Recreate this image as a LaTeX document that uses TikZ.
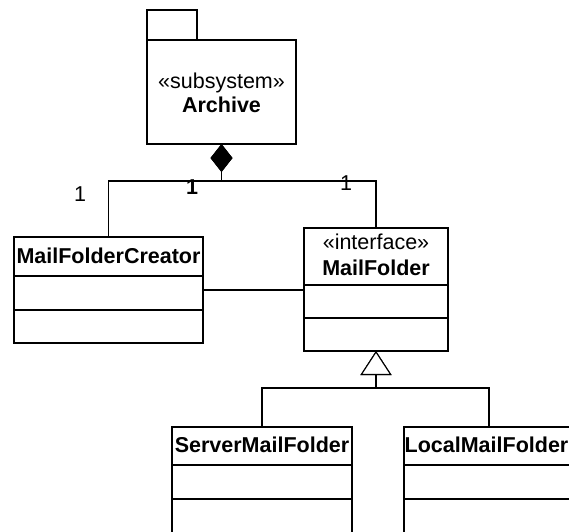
\documentclass[tikz,border=0pt]{standalone}
\usepackage{fontspec}
\setmainfont{Liberation Sans}
\usetikzlibrary{arrows.meta}
\tikzset{
  box/.style={draw, line width=1.6pt, inner sep=0pt, outer sep=0pt, fill=white},
  sep/.style={line width=1.7pt},
  link/.style={line width=1.1pt},
  txt/.style={anchor=base, inner sep=0pt, font=\fontsize{21.5}{25}\selectfont},
  bname/.style={txt, font=\fontsize{21.5}{25}\selectfont\bfseries},
  mult/.style={inner sep=0pt, font=\fontsize{21.5}{25}\selectfont},
  compose/.style={link, {Diamond[length=28pt,width=22pt]}-},
  inherit/.style={link, -{Triangle[open, length=24pt, width=31pt, fill=white]}}
}
\begin{document}
\begin{tikzpicture}[x=1pt,y=-1pt]
\useasboundingbox (0,0) rectangle (569,531);
\clip (0,0) rectangle (569,531);

% subsystem package
\node[box, minimum width=50pt, minimum height=30pt] (tab) at (172,25) {};
\node[box, minimum width=149pt, minimum height=104pt] (archive) at (221.5,92) {};
\node[txt] (archivest) at (221.5,88) {«subsystem»};
\node[bname] (archivename) at (221.5,112) {Archive};

% classes
\node[box, minimum width=189pt, minimum height=106pt] (creator) at (108.5,290) {};
\node[bname] (creatorname) at (108.5,263) {MailFolderCreator};
\draw[sep] (creator.west |- 0,276) -- (creator.east |- 0,276);
\draw[sep] (creator.west |- 0,310) -- (creator.east |- 0,310);

\node[box, minimum width=144pt, minimum height=123pt] (folder) at (376,289.5) {};
\node[txt] (folderst) at (376,249) {«interface»};
\node[bname] (foldername) at (376,275) {MailFolder};
\draw[sep] (folder.west |- 0,285) -- (folder.east |- 0,285);
\draw[sep] (folder.west |- 0,318) -- (folder.east |- 0,318);

\node[box, minimum width=180pt, minimum height=140pt] (server) at (262,497) {};
\node[bname] (servername) at (262,452) {ServerMailFolder};
\draw[sep] (server.west |- 0,465) -- (server.east |- 0,465);
\draw[sep] (server.west |- 0,499) -- (server.east |- 0,499);

\node[box, minimum width=170pt, minimum height=140pt] (local) at (489,497) {};
\node[bname] (localname) at (486.5,452) {LocalMailFolder};
\draw[sep] (local.west |- 0,465) -- (local.east |- 0,465);
\draw[sep] (local.west |- 0,499) -- (local.east |- 0,499);

% composition
\draw[compose] (archive.south) -- (archive.south |- 0,181) -| (creator.north);
\draw[compose] (archive.south) -- (archive.south |- 0,181) -| (folder.north);
\node[mult] (m1) at (80,194) {1};
\node[mult, font=\fontsize{21.5}{25}\selectfont\bfseries] (m2) at (192,187) {1};
\node[mult] (m3) at (346,183) {1};

% association
\draw[link] (creator.east) -- (creator.east -| folder.west);

% generalization
\draw[inherit] (server.north) |- (folder.south |- 0,388) -- (folder.south);
\draw[inherit] (local.north) |- (folder.south |- 0,388) -- (folder.south);
\end{tikzpicture}
\end{document}
